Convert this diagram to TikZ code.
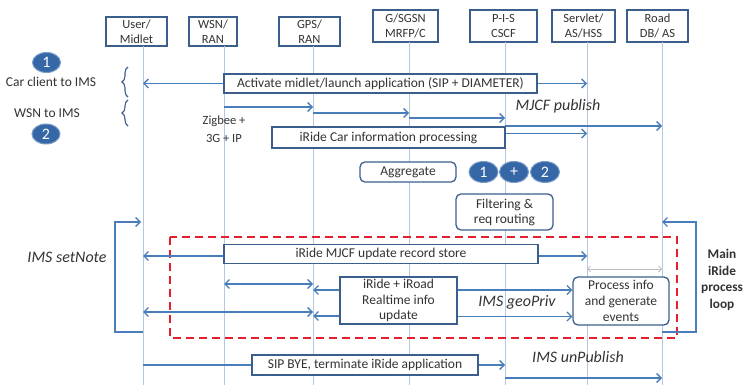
\documentclass[tikz,border=0pt]{standalone}
\usepackage{fontspec}
\setmainfont{Carlito}
\usetikzlibrary{arrows.meta,decorations.pathreplacing,calc,shapes.geometric}
\definecolor{boxc}{HTML}{3B5E8C}
\definecolor{arrc}{HTML}{4A7EBB}
\definecolor{lifec}{HTML}{B4C8E0}
\definecolor{circf}{HTML}{3566A6}
\definecolor{circd}{HTML}{7A9CC8}
\definecolor{redd}{HTML}{E3202B}
\definecolor{txt}{HTML}{333333}
\begin{document}
\begin{tikzpicture}[x=1pt,y=-1pt,
  font=\fontsize{13.5}{15.5}\selectfont, text=txt,
  hdr/.style={draw=boxc, line width=1.3pt, fill=white, align=center, inner sep=0pt,
    font=\fontsize{12.5}{14.5}\selectfont},
  msg/.style={draw=boxc, line width=1.3pt, fill=white, inner sep=0pt, align=center,
    font=\fontsize{13.5}{15.8}\selectfont},
  rmsg/.style={msg, rounded corners=5pt},
  tipa/.style={-{Straight Barb[length=4.5pt,width=9pt,line width=1.3pt]}},
  arr/.style={draw=arrc, line width=1.3pt, tipa},
  darr/.style={draw=arrc, line width=1.3pt, {Straight Barb[length=4.5pt,width=9pt,line width=1.3pt]}-{Straight Barb[length=4.5pt,width=9pt,line width=1.3pt]}},
  plain/.style={draw=arrc, line width=1.3pt},
  life/.style={draw=lifec, line width=0.8pt},
  num/.style={ellipse, fill=circf, draw=circd, line width=1pt, inner sep=0pt,
    minimum width=28pt, minimum height=20pt, text=white, font=\fontsize{16}{16}\selectfont},
  ital/.style={font=\fontsize{16}{18}\selectfont\itshape},
  brc/.style={draw=boxc, line width=1.1pt, decorate, decoration={brace, amplitude=6pt}},
]
\useasboundingbox (0,0) rectangle (745,385);

% header boxes
\node[hdr, minimum width=61pt, minimum height=29pt] (user) at (136.5,31.5) {User/\\Midlet};
\node[hdr, minimum width=48pt, minimum height=29pt] (wsn) at (213,31.5) {WSN/\\RAN};
\node[hdr, minimum width=61pt, minimum height=29pt] (gps) at (309.5,31.5) {GPS/\\RAN};
\node[hdr, minimum width=65pt, minimum height=32pt] (sgsn) at (405.5,26) {G/SGSN\\MRFP/C};
\node[hdr, minimum width=67pt, minimum height=32pt] (pis) at (503.5,26) {P-I-S\\CSCF};
\node[hdr, minimum width=63pt, minimum height=32pt] (serv) at (583.5,26) {Servlet/\\AS/HSS};
\node[hdr, minimum width=61pt, minimum height=32pt] (road) at (657.5,26) {Road\\DB/ AS};

% lifelines
\coordinate (lU) at (143,46);
\coordinate (lW) at (224,46);
\coordinate (lG) at (313,46);
\coordinate (lS) at (409,42);
\coordinate (lP) at (505,42);
\coordinate (lV) at (587,42);
\coordinate (lR) at (662,42);
\coordinate (bot) at (0,385);
\foreach \l in {lU,lW,lG,lS,lP,lV,lR} \draw[life] (\l) -- (\l |- bot);

% left legend
\node[num] (n1) at (46.5,62.5) {1};
\node (carims) at (51,82) {Car client to IMS};
\node (wsnims) at (47,113) {WSN to IMS};
\node[num] (n2) at (46,134) {2};
\draw[brc] (128,97) -- (128,67);
\draw[brc] (128,126) -- (128,100);

% red dashed region
\draw[draw=redd, line width=2pt, dash pattern=on 8pt off 5pt] (170,237) rectangle (677,338);

% activation
\node[msg, minimum width=313pt, minimum height=19pt] (act) at (380.5,83.5) {Activate midlet/launch application (SIP + DIAMETER)};
\draw[arr] (act.west) -- (lU |- act.west);
\draw[arr] (act.east) -- (lV |- act.east);

% WSN staircase
\coordinate (s1) at (224,107);
\coordinate (s2) at (313,113);
\coordinate (s3) at (409,118);
\coordinate (s4) at (505,126);
\draw[arr] (s1) -- (lG |- s1);
\draw[arr] (s2) -- (lS |- s2);
\draw[arr] (s3) -- (lP |- s3);
\draw[arr] (s4) -- (lR |- s4);
\node[align=center, font=\fontsize{12.5}{18}\selectfont] (zig) at (224,129) {Zigbee +\\3G + IP};
\node[ital] (mjcfp) at (558,106) {MJCF publish};

\node[msg, minimum width=233pt, minimum height=21pt] (car) at (388.5,137.5) {iRide Car information processing};
\draw[arr] ($(car.east)+(0,-4)$) -- (lV |- {$(car.east)+(0,-4)$});

\node[rmsg, minimum width=96pt, minimum height=20pt] (agg) at (408,172) {Aggregate};
\node[num, minimum width=29pt, minimum height=21pt] (c1) at (483.5,172) {1};
\node[num, minimum width=29pt, minimum height=21pt] (cp) at (514,172) {+};
\node[num, minimum width=29pt, minimum height=21pt] (c2) at (545,172) {2};
\node[rmsg, minimum width=97pt, minimum height=36pt, font=\fontsize{13.5}{15}\selectfont] (filt) at (504.5,212) {Filtering \&\\req routing};

% loops
\coordinate (lt) at (115,222);
\coordinate (lb) at (115,332);
\draw[plain, tipa] (lU |- lb) -- (lb) -- (lt) -- ([xshift=-2pt]lU |- lt);
\node[ital] (setnote) at (67,257) {IMS setNote};
\coordinate (rt) at (696,222);
\coordinate (rb) at (696,332);
\draw[plain, tipa] (lR |- rb) -- (rb) -- (rt) -- (lR |- rt);
\node[align=center, font=\bfseries\fontsize{13.3}{16.7}\selectfont] (mainloop) at (722,280) {Main\\iRide\\process\\loop};

% update record store
\node[msg, minimum width=314pt, minimum height=19pt] (mjcf) at (381,254) {iRide MJCF update record store};
\draw[arr] ($(mjcf.west)+(0,2)$) -- (lU |- {$(mjcf.west)+(0,2)$});
\draw[arr] ($(mjcf.east)+(0,2)$) -- (lV |- {$(mjcf.east)+(0,2)$});

% realtime
\coordinate (d1) at (224,284);
\coordinate (d2) at (143,312);
\draw[darr] (d1) -- (lG |- d1);
\draw[darr] (d2) -- (lG |- d2);
\node[msg, minimum width=117pt, minimum height=47pt] (rtb) at (398.5,300.5) {iRide + iRoad\\Realtime info\\update};
\node[rmsg, minimum width=96pt, minimum height=48pt] (proc) at (621,301) {Process info\\and generate\\events};
\draw[arr] ($(rtb.west)+(0,-10.5)$) -- (lG |- {$(rtb.west)+(0,-10.5)$});
\draw[arr] ($(rtb.west)+(0,15.5)$) -- (lG |- {$(rtb.west)+(0,15.5)$});
\draw[arr] ($(rtb.east)+(0,-10.5)$) -- (proc.west |- {$(rtb.east)+(0,-10.5)$});
\draw[arr] ($(rtb.east)+(0,16)$) -- (proc.west |- {$(rtb.east)+(0,16)$});
\node[ital] (geo) at (517,302) {IMS geoPriv};
\coordinate (g1) at (587,269);
\draw[draw=black!25, line width=0.8pt, {Straight Barb[length=3pt,width=6pt]}-{Straight Barb[length=3pt,width=6pt]}] (g1) -- (lR |- g1);

% bye
\node[msg, minimum width=226pt, minimum height=20pt] (bye) at (365,365) {SIP BYE, terminate iRide application};
\draw[plain] (lU |- bye.west) -- (bye.west);
\draw[arr] (bye.east) -- (lP |- bye.east);
\node[ital] (unpub) at (578,357) {IMS unPublish};
\coordinate (u1) at (505,378);
\draw[arr] (u1) -- (lR |- u1);
\end{tikzpicture}
\end{document}
